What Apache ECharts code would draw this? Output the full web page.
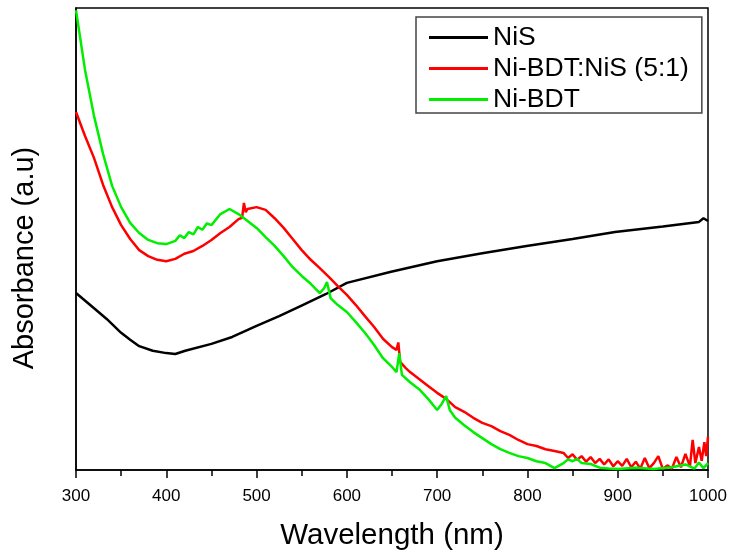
<!DOCTYPE html>
<html><head><meta charset="utf-8">
<script src="https://cdn.jsdelivr.net/npm/echarts@6/dist/echarts.min.js"></script>
<style>html,body{margin:0;padding:0;background:#fff}#c{width:731px;height:551px}</style>
</head><body><div id="c"></div>
<script>
const xTicks = [300, 400, 500, 600, 700, 800, 900, 1000];
const seriesNames = ['NiS', 'Ni-BDT:NiS (5:1)', 'Ni-BDT'];

const nisX = [300, 320, 334, 350, 360, 370, 385, 400, 410, 421, 450, 473, 500, 525, 551, 577, 600, 649, 700, 750, 799, 850, 897, 950, 990, 995, 1000];
const nisY = [38.3, 35.0, 32.7, 29.7, 28.2, 26.8, 25.8, 25.3, 25.1, 25.8, 27.3, 28.8, 31.2, 33.3, 35.7, 38.1, 40.5, 42.9, 45.2, 46.9, 48.5, 50.0, 51.5, 52.7, 53.7, 54.5, 53.9];

const redX = [300, 310, 320, 330, 340, 350, 360, 370, 380, 390, 400, 410, 420, 430, 440, 450, 460, 470, 480, 484, 486, 488, 490, 500, 510, 520, 530, 540, 550, 560, 570, 580, 590, 600, 610, 620, 630, 640, 650, 655, 657, 659, 665, 670, 680, 690, 700, 710, 720, 730, 740, 750, 760, 770, 780, 790, 800, 810, 820, 830, 840, 845, 850, 855, 860, 865, 870, 875, 880, 885, 890, 895, 900, 905, 910, 915, 920, 925, 930, 935, 940, 945, 950, 955, 960, 965, 970, 975, 980, 983, 986, 990, 993, 996, 998, 1000];
const redY = [77.5, 72.3, 67.5, 61.7, 56.9, 53.0, 50.0, 47.6, 46.3, 45.5, 45.2, 45.7, 46.8, 47.4, 48.5, 49.8, 51.3, 52.6, 54.3, 54.6, 57.8, 55.8, 56.5, 56.9, 56.3, 54.5, 52.4, 50.0, 47.6, 45.5, 43.7, 41.8, 39.8, 37.9, 35.7, 33.3, 31.0, 28.4, 26.6, 26.0, 27.6, 23.4, 22.1, 21.2, 19.7, 18.2, 16.7, 15.4, 13.6, 12.6, 11.3, 10.2, 9.5, 8.4, 7.6, 6.5, 5.6, 5.2, 4.5, 4.1, 3.7, 2.6, 3.4, 2.2, 3.0, 1.8, 2.8, 1.5, 2.4, 1.2, 2.3, 0.8, 1.9, 0.9, 2.4, 0.6, 1.8, 0.3, 2.6, 0.4, 1.5, 3.0, 0.2, 1.0, 0.3, 2.8, 0.6, 3.5, 0.8, 6.5, 1.5, 5.0, 2.0, 6.0, 3.0, 7.2];

const grnX = [300, 310, 320, 330, 340, 350, 360, 370, 380, 390, 400, 410, 415, 420, 425, 430, 435, 440, 445, 450, 460, 470, 480, 490, 500, 510, 520, 530, 540, 550, 560, 570, 575, 578, 582, 590, 600, 610, 620, 630, 640, 650, 655, 658, 661, 670, 680, 690, 700, 705, 710, 714, 720, 730, 740, 750, 760, 770, 780, 790, 800, 810, 820, 830, 840, 845, 850, 855, 860, 870, 880, 890, 900, 920, 940, 960, 975, 985, 990, 995, 1000];
const grnY = [99.5, 86.6, 76.6, 68.4, 61.5, 56.9, 53.5, 51.3, 49.8, 49.1, 48.9, 49.6, 50.8, 50.2, 51.5, 51.0, 52.6, 52.0, 53.4, 53.0, 55.4, 56.5, 55.4, 53.9, 52.4, 50.4, 48.5, 46.3, 43.9, 42.0, 40.3, 38.3, 39.4, 40.7, 37.2, 35.7, 34.2, 32.0, 29.7, 27.1, 24.2, 22.3, 21.2, 25.3, 20.6, 19.0, 17.5, 15.4, 13.0, 14.3, 16.0, 13.0, 11.3, 9.7, 8.2, 6.9, 5.6, 4.5, 3.7, 3.0, 2.6, 1.9, 1.5, 0.4, 1.5, 2.3, 1.9, 2.4, 1.5, 1.3, 0.5, 0.3, 0.2, 0.5, 0.2, 0.6, 1.2, 0.3, 1.6, 0.4, 1.5];

const colors = ['#000000', '#ff0000', '#00ee00'];
const pairs = (xs, ys) => xs.map((x, i) => [x, ys[i]]);
const dataSets = [pairs(nisX, nisY), pairs(redX, redY), pairs(grnX, grnY)];

const chart = echarts.init(document.getElementById('c'), null, {renderer: 'canvas'});
const font = 'Arial, "Liberation Sans", sans-serif';
chart.setOption({
  animation: false,
  backgroundColor: '#fff',
  grid: {left: 76, right: 23, top: 8, bottom: 81, containLabel: false, outerBoundsMode: 'none', show: true, borderColor: '#000', borderWidth: 1.5, backgroundColor: 'transparent'},
  legend: {
    orient: 'vertical', left: 416, top: 17,
    data: seriesNames,
    icon: 'rect', itemWidth: 59, itemHeight: 3, itemGap: 4,
    padding: [7, 13, 0, 13],
    borderColor: '#444', borderWidth: 1.5, backgroundColor: '#fff',
    textStyle: {fontFamily: font, fontSize: 26.5, color: '#000', lineHeight: 22},
    itemTextGap: 9
  },
  xAxis: {
    type: 'value', min: xTicks[0], max: xTicks[xTicks.length - 1], interval: 100,
    name: 'Wavelength (nm)', nameLocation: 'middle', nameGap: 51,
    nameTextStyle: {fontFamily: font, fontSize: 29.5, color: '#000'},
    axisLine: {show: true, lineStyle: {color: '#000', width: 1.5}},
    axisTick: {show: true, inside: false, length: 8, lineStyle: {color: '#000', width: 1.5}},
    minorTick: {show: true, splitNumber: 2, length: 6, lineStyle: {color: '#000', width: 1.5}},
    axisLabel: {fontFamily: font, fontSize: 17, color: '#000', margin: 18, formatter: v => String(v)},
    splitLine: {show: false}
  },
  yAxis: {
    type: 'value', min: 0, max: 100,
    name: 'Absorbance (a.u)', nameLocation: 'middle', nameGap: 37,
    nameTextStyle: {fontFamily: font, fontSize: 29, color: '#000', padding: [0, 38, 0, 0]},
    axisLine: {show: true, lineStyle: {color: '#000', width: 1.5}},
    axisTick: {show: false}, axisLabel: {show: false}, splitLine: {show: false}
  },
  series: seriesNames.map((n, i) => ({
    name: n, type: 'line', data: dataSets[i], showSymbol: false, symbol: 'none',
    color: colors[i], lineStyle: {color: colors[i], width: 2.5}, clip: true
  }))
});
</script></body></html>
